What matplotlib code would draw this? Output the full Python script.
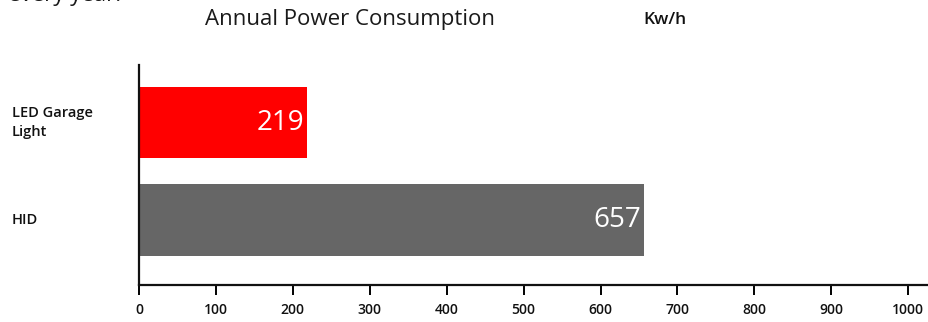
import matplotlib
matplotlib.use("Agg")
import matplotlib.pyplot as plt

plt.rcParams['font.family'] = ['Open Sans', 'DejaVu Sans']

categories = ["HID", "LED Garage\nLight"]
values = [657, 219]
colors = ["#666666", "#FF0000"]
ticks = [0, 100, 200, 300, 400, 500, 600, 700, 800, 900, 1000]

fig = plt.figure(figsize=(9.29, 3.22), dpi=100)
ax = fig.add_axes([139 / 929, 37 / 322, 1 - 139 / 929, 220 / 322])

ypos = list(range(len(categories)))
ax.barh(ypos, values, height=0.73, color=colors, zorder=1)

for y, v in zip(ypos, values):
    ax.text(v - 4, y, f"{v}", color="white", fontsize=20, ha="right",
            va="center", zorder=3)

ax.set_xlim(0, 1027)
ax.set_ylim(-0.667, 1.59)
ax.set_xticks(ticks)
ax.set_xticklabels([str(t) for t in ticks], fontsize=10, color="#111111",
                   fontweight="semibold")
ax.set_yticks([])

for side in ("top", "right"):
    ax.spines[side].set_visible(False)
for side in ("left", "bottom"):
    ax.spines[side].set_linewidth(1.6)
    ax.spines[side].set_color("#111111")
    ax.spines[side].set_zorder(4)
ax.tick_params(axis="x", direction="out", length=7, width=1.4, pad=6)

# category labels, left aligned at the figure edge
for y, lab in zip(ypos, categories):
    yfig = ax.transData.transform((0, y))[1]
    ax.annotate(lab, xy=(12, yfig), xycoords="figure pixels", ha="left",
                va="center", fontsize=10.5, fontweight="semibold",
                color="#111111", linespacing=1.4)

fig.text(350 / 929, 1 - 19 / 322, "Annual Power Consumption", ha="center",
         va="center", fontsize=16, color="#1a1a1a")
fig.text(665 / 929, 1 - 20 / 322, "Kw/h", ha="center", va="center",
         fontsize=12.5, fontweight="semibold", color="#111111")
fig.text(8 / 929, 1 - 1 / 322, "every year.", ha="left", va="baseline",
         fontsize=16, color="#1a1a1a")

fig.savefig("out.png", dpi=100)
